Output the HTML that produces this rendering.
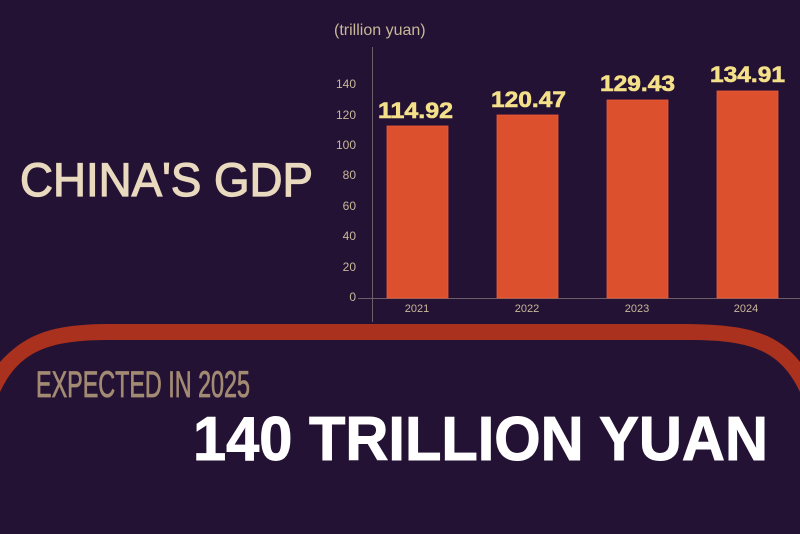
<!DOCTYPE html>
<html><head><meta charset="utf-8"><style>
html,body{margin:0;padding:0;background:#231233;}
svg{display:block}
</style></head><body>
<svg width="800" height="534" viewBox="0 0 800 534" xmlns="http://www.w3.org/2000/svg" font-family="Liberation Sans, sans-serif">
<rect width="800" height="534" fill="#231233"/>
<path d="M0,362 C25,335 50,324 110,324 L680,324 C740,324 775,330 800,362 L800,392 C780,350 750,340 690,340 L110,340 C50,340 20,350 0,392 Z" fill="#aa311d"/>
<line x1="372.5" y1="47" x2="372.5" y2="322" stroke="#6d5f68" stroke-width="1"/>
<line x1="358" y1="298.5" x2="800" y2="298.5" stroke="#6d5f68" stroke-width="1"/>
<text x="334" y="35" font-size="16" fill="#c8b89a">(trillion yuan)</text>
<g font-size="12" fill="#c8b89a" text-anchor="end">
<text x="356" y="301">0</text>
<text x="356" y="271">20</text>
<text x="356" y="240">40</text>
<text x="356" y="210">60</text>
<text x="356" y="179">80</text>
<text x="356" y="149">100</text>
<text x="356" y="119">120</text>
<text x="356" y="88">140</text>
</g>
<g fill="#dd502e" stroke="#ee5a35" stroke-width="0.8">
<rect x="387" y="126" width="61" height="172"/>
<rect x="497" y="115" width="61" height="183"/>
<rect x="607" y="100" width="61" height="198"/>
<rect x="717" y="91" width="61" height="207"/>
</g>
<g font-size="11" fill="#c8b89a" text-anchor="middle">
<text x="417" y="312">2021</text>
<text x="527" y="312">2022</text>
<text x="637" y="312">2023</text>
<text x="746" y="312">2024</text>
</g>
<g font-size="22" font-weight="bold" fill="#f5e08a" stroke="#f5e08a" stroke-width="0.6">
<text x="378" y="118" textLength="75" lengthAdjust="spacingAndGlyphs">114.92</text>
<text x="491" y="107" textLength="75" lengthAdjust="spacingAndGlyphs">120.47</text>
<text x="600" y="91" textLength="75" lengthAdjust="spacingAndGlyphs">129.43</text>
<text x="710" y="82" textLength="75" lengthAdjust="spacingAndGlyphs">134.91</text>
</g>
<text x="20" y="196" font-size="47" fill="#e8d9bf" stroke="#e8d9bf" stroke-width="1.2" textLength="293" lengthAdjust="spacingAndGlyphs">CHINA'S GDP</text>
<text x="36" y="397" font-size="37" fill="#a38a73" stroke="#a38a73" stroke-width="0.8" textLength="214" lengthAdjust="spacingAndGlyphs">EXPECTED IN 2025</text>
<text x="193" y="460" font-size="62" font-weight="bold" fill="#ffffff" stroke="#ffffff" stroke-width="1" textLength="575" lengthAdjust="spacingAndGlyphs">140 TRILLION YUAN</text>
</svg>
</body></html>
